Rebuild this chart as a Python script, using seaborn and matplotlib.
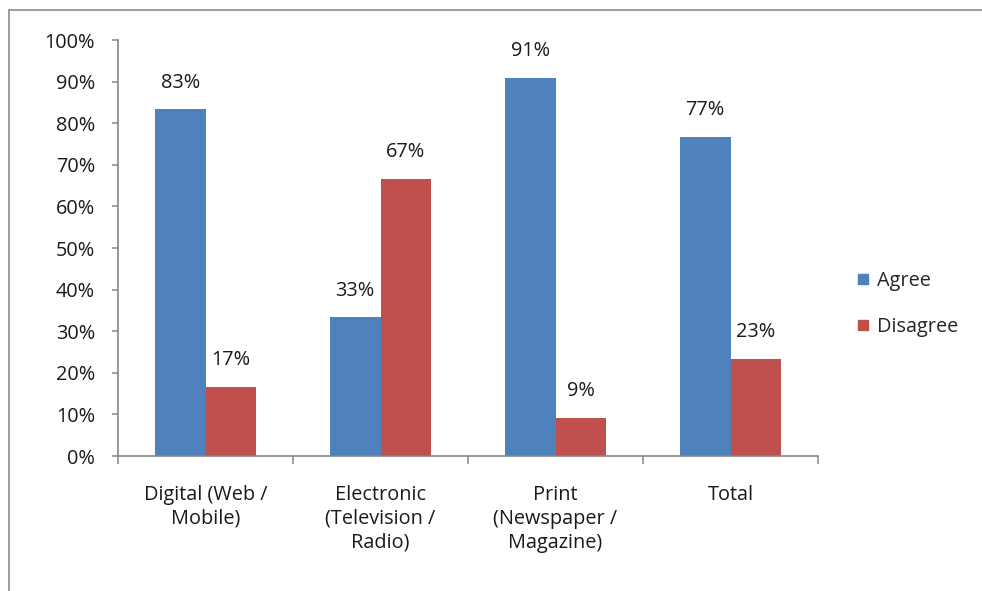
import matplotlib
matplotlib.use("Agg")
import matplotlib.pyplot as plt
import matplotlib.patches as mpatches
from matplotlib.lines import Line2D
import seaborn as sns
import pandas as pd

categories = ["Digital (Web /\nMobile)", "Electronic\n(Television /\nRadio)",
              "Print\n(Newspaper /\nMagazine)", "Total"]
series = ["Agree", "Disagree"]
agree = [83.3, 33.3, 90.9, 76.7]
disagree = [16.7, 66.7, 9.1, 23.3]
agree_labels = ["83%", "33%", "91%", "77%"]
disagree_labels = ["17%", "67%", "9%", "23%"]
yticks = [0, 10, 20, 30, 40, 50, 60, 70, 80, 90, 100]
ytick_labels = [f"{t}%" for t in yticks]

colors = {"Agree": "#4F81BD", "Disagree": "#C0504D"}

df = pd.DataFrame({
    "category": categories * 2,
    "series": ["Agree"] * 4 + ["Disagree"] * 4,
    "value": agree + disagree,
    "label": agree_labels + disagree_labels,
})

sns.set_style("white")
plt.rcParams["font.family"] = ["Open Sans", "DejaVu Sans"]
FS = 14.3
TXT = "#1a1a1a"

fig = plt.figure(figsize=(9.82, 5.91), dpi=100)
ax = fig.add_axes([118/982, 1 - 456/591, 700/982, 416/591])

sns.barplot(data=df, x="category", y="value", hue="series", palette=colors,
            width=0.58, gap=0, dodge=True, ax=ax, legend=False,
            saturation=1, edgecolor="none", linewidth=0)

for container, labs in zip(ax.containers, [agree_labels, disagree_labels]):
    ax.bar_label(container, labels=labs, padding=12, fontsize=FS, color=TXT)

ax.set_ylim(0, 100)
ax.set_xlim(-0.5, 3.5)
ax.set_yticks(yticks)
ax.set_yticklabels(ytick_labels)
ax.set_xlabel("")
ax.set_ylabel("")

axis_color = "#868686"
for s in ["top", "right"]:
    ax.spines[s].set_visible(False)
for s in ["left", "bottom"]:
    ax.spines[s].set_color(axis_color)
    ax.spines[s].set_linewidth(1.2)

ax.tick_params(axis="y", which="major", length=4.5, width=1.1, color=axis_color,
               direction="out", left=True, pad=12, labelsize=FS, labelcolor=TXT)
ax.set_xticks(range(len(categories)))
ax.set_xticklabels(categories)
ax.tick_params(axis="x", which="major", length=0, pad=21, labelsize=FS, labelcolor=TXT)
ax.set_xticks([-0.5, 0.5, 1.5, 2.5, 3.5], minor=True)
ax.tick_params(axis="x", which="minor", length=6, width=1.1, color=axis_color,
               direction="out", bottom=True)
for t in ax.get_xticklabels():
    t.set_verticalalignment("top")
    t.set_linespacing(1.25)

handles = [Line2D([0], [0], marker="s", linestyle="none", markersize=7.5,
                  markerfacecolor=colors[s], markeredgecolor=colors[s]) for s in series]
fig.legend(handles, series, loc="center left", bbox_to_anchor=(857/982, 1 - 304/591),
           frameon=False, fontsize=FS, handlelength=0.6, handletextpad=0.4,
           labelspacing=1.3, borderaxespad=0, borderpad=0)

border = mpatches.Rectangle((9/982, -0.1), 1.2, 0.1 + (1 - 10/591), transform=fig.transFigure,
                            fill=False, edgecolor="#8c8c8c", linewidth=1.2)
fig.patches.append(border)

fig.savefig("out.png", dpi=100)
